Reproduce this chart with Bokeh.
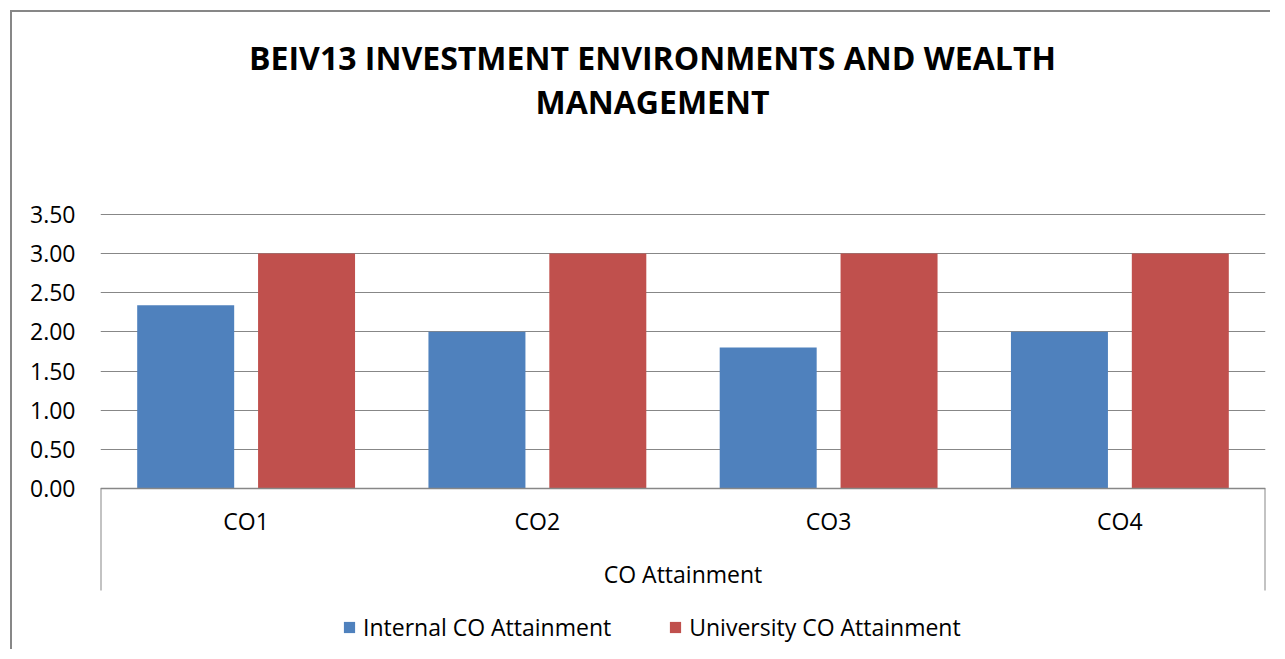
from bokeh.plotting import figure
from bokeh.models import (FactorRange, Range1d, FixedTicker, NumeralTickFormatter,
                          Legend, LegendItem, Label)
from bokeh.transform import dodge
from bokeh.embed import file_html
from bokeh.resources import INLINE

# ---- data ----
categories = ["CO1", "CO2", "CO3", "CO4"]
internal = [2.34, 2.00, 1.80, 2.00]
university = [3.00, 3.00, 3.00, 3.00]
series_names = ["Internal CO Attainment", "University CO Attainment"]
y_ticks = [0.0, 0.5, 1.0, 1.5, 2.0, 2.5, 3.0, 3.5]
title_lines = ["BEIV13 INVESTMENT ENVIRONMENTS AND WEALTH", "MANAGEMENT"]
x_axis_title = "CO Attainment"

# ---- style / layout ----
FONT = "Open Sans"
GRID = "#878787"
BLUE = "#4F81BD"
RED = "#C0504D"
W, H = 1260, 639
Y_VIEW = (-2.081, 6.077)      # visible value range (room for title / legend)
SEP_BOTTOM = -1.302            # how far the outer category separators reach down

p = figure(
    width=W, height=H,
    x_range=FactorRange(factors=categories, range_padding=0),
    y_range=Range1d(*Y_VIEW),
    output_backend="svg", toolbar_location=None,
    min_border_left=88, min_border_right=W - 88 - 1165, min_border_top=0, min_border_bottom=0,
)
p.styles = {"border-left": f"2px solid {GRID}", "border-top": f"2px solid {GRID}",
            "margin-left": "10px", "margin-top": "10px"}
p.outline_line_color = None
p.background_fill_color = "white"
p.border_fill_color = "white"

src = dict(cat=categories, internal=internal, university=university)
r1 = p.vbar(x=dodge("cat", -0.2075, range=p.x_range), top="internal", width=0.333,
            source=src, fill_color=BLUE, line_color=None)
r2 = p.vbar(x=dodge("cat", 0.2075, range=p.x_range), top="university", width=0.333,
            source=src, fill_color=RED, line_color=None)

# outer separators of the category axis
n = len(categories)
p.segment(x0=[0, n], y0=[0, 0], x1=[0, n], y1=[SEP_BOTTOM] * 2,
          line_color=GRID, line_width=2)

# grid
p.xgrid.visible = False
p.ygrid.ticker = FixedTicker(ticks=y_ticks)
p.ygrid.grid_line_color = GRID
p.ygrid.grid_line_width = 1

# y axis
ya = p.yaxis[0]
ya.ticker = FixedTicker(ticks=y_ticks)
ya.formatter = NumeralTickFormatter(format="0.00")
ya.axis_line_color = None
ya.major_tick_line_color = None
ya.minor_tick_line_color = None
ya.major_tick_out = 0
ya.major_label_standoff = 25
ya.major_label_text_font = FONT
ya.major_label_text_font_size = "23px"
ya.major_label_text_color = "black"

# x axis
xa = p.xaxis[0]
xa.fixed_location = 0
xa.axis_line_color = GRID
xa.axis_line_width = 1.5
xa.major_tick_line_color = None
xa.minor_tick_line_color = None
xa.major_tick_out = 0
xa.major_label_standoff = 17
xa.major_label_text_font = FONT
xa.major_label_text_font_size = "23px"
xa.major_label_text_color = "black"
xa.axis_label = x_axis_title
xa.axis_label_text_font = FONT
xa.axis_label_text_font_size = "23px"
xa.axis_label_text_font_style = "normal"
xa.axis_label_text_color = "black"
xa.axis_label_standoff = 17

# title (two centred lines)
for txt, yy in zip(title_lines, [594, 550]):
    p.add_layout(Label(x=552, y=yy, x_units="screen", y_units="screen", text=txt,
                       text_align="center", text_baseline="middle",
                       text_font=FONT, text_font_size="32px", text_font_style="bold",
                       text_color="black"))

legend = Legend(items=[LegendItem(label=series_names[0], renderers=[r1]),
                       LegendItem(label=series_names[1], renderers=[r2])],
                orientation="horizontal", location=(242, 8),
                glyph_width=14, glyph_height=14, label_standoff=7, spacing=57,
                padding=0, margin=0, border_line_color=None, background_fill_alpha=0,
                label_text_font=FONT, label_text_font_size="23px", label_text_color="black")
p.add_layout(legend, "center")

open("out.html", "w").write(file_html(p, INLINE))
